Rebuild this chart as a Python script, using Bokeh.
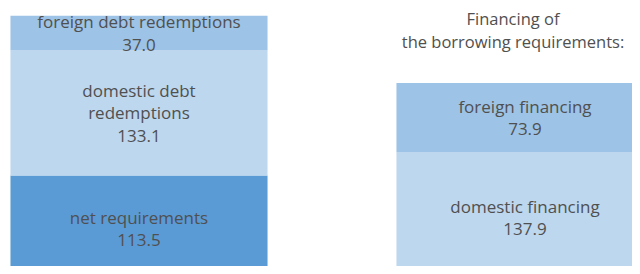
from bokeh.plotting import figure
from bokeh.models import Range1d, ColumnDataSource, Label
from bokeh.core.properties import value
from bokeh.embed import file_html
from bokeh.resources import INLINE

# Data
req_labels = ["net requirements", "domestic debt\nredemptions", "foreign debt redemptions"]
req_values = [113.5, 133.1, 37.0]
req_colors = ["#5B9BD5", "#BDD7EE", "#9DC3E6"]

fin_labels = ["domestic financing", "foreign financing"]
fin_values = [137.9, 73.9]
fin_colors = ["#BDD7EE", "#9DC3E6"]

title_text = "Financing of\nthe borrowing requirements:"

FONT = "Open Sans"
FSIZE = "17px"
TCOL = "#505050"
LH = 0.96

p = figure(width=632, height=266, output_backend="svg", toolbar_location=None,
           x_range=Range1d(-0.3588, 1.2785), y_range=Range1d(16.7, 299.7),
           min_border=0, outline_line_color=None)
p.axis.visible = False
p.grid.visible = False
p.background_fill_color = "white"
p.border_fill_color = "white"

def stack(xpos, labels, vals, colors):
    bottoms, tops, mids = [], [], []
    acc = 0.0
    for v in vals:
        bottoms.append(acc)
        tops.append(acc + v)
        mids.append(acc + v / 2)
        acc += v
    src = ColumnDataSource(dict(
        x=[xpos] * len(vals), bottom=bottoms, top=tops, color=colors,
        mid=mids, txt=[f"{l}\n{v:.1f}" for l, v in zip(labels, vals)]))
    p.vbar(x="x", bottom="bottom", top="top", width=0.666, color="color",
           line_color=None, source=src)
    p.text(x="x", y="mid", text="txt", source=src, text_align="center",
           text_baseline="middle", text_font=value(FONT),
           text_font_size=FSIZE, text_color=TCOL, text_line_height=LH)
    return acc

stack(0, req_labels, req_values, req_colors)
fin_total = stack(1, fin_labels, fin_values, fin_colors)

p.add_layout(Label(x=1, y=fin_total + 56.5, x_offset=-12, text=title_text,
                   text_align="center", text_baseline="middle", text_font=FONT,
                   text_font_size="16.5px", text_color=TCOL, text_line_height=LH))

open("out.html", "w").write(file_html(p, INLINE))
